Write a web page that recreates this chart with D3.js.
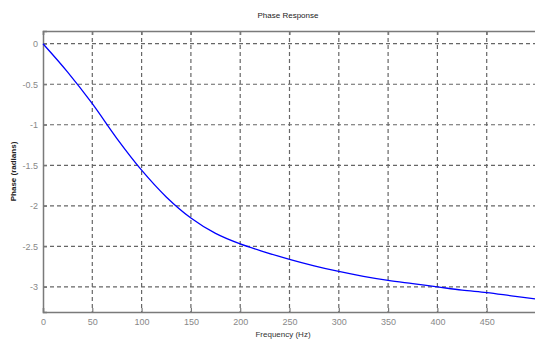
<!DOCTYPE html>
<html>
<head>
<meta charset="utf-8">
<script src="https://cdn.jsdelivr.net/npm/d3@7"></script>
<style>
body { margin: 0; background: #fff; }
svg { display: block; font-family: Arial, 'Liberation Sans', sans-serif; }
</style>
</head>
<body>
<div id="chart"></div>
<script>
// Phase response samples
const freqs = [0, 25, 50, 75, 100, 125, 150, 175, 200, 225, 250, 275, 300, 325, 350, 375, 400, 425, 450, 475, 500];
const phase = [0, -0.35, -0.74, -1.17, -1.56, -1.89, -2.15, -2.34, -2.47, -2.57, -2.66, -2.74, -2.81, -2.87, -2.92, -2.96, -3.0, -3.04, -3.07, -3.11, -3.15];
const xTicks = [0, 50, 100, 150, 200, 250, 300, 350, 400, 450];
const yTicks = [0, -0.5, -1, -1.5, -2, -2.5, -3];
const data = freqs.map((f, i) => ({ f: f, p: phase[i] }));

const W = 535, H = 339;
const margin = { top: 31, right: -1, bottom: 27, left: 43 };
const width = W - margin.left - margin.right;
const height = H - margin.top - margin.bottom;

const svg = d3.select('#chart').append('svg')
	.attr('width', W)
	.attr('height', H);

const x = d3.scaleLinear().domain([0, 500]).range([0, width]);
const y = d3.scaleLinear().domain([-3.31, 0.157]).range([height, 0]);

const g = svg.append('g')
	.attr('transform', 'translate(' + margin.left + ',' + margin.top + ')');

// grid
g.append('g').selectAll('line').data(xTicks.filter(d => d > 0)).enter().append('line')
	.attr('x1', d => x(d)).attr('x2', d => x(d))
	.attr('y1', 0).attr('y2', height)
	.attr('stroke', '#666').attr('stroke-width', 1.2)
	.attr('stroke-dasharray', '4,3');
g.append('g').selectAll('line').data(yTicks).enter().append('line')
	.attr('x1', 0).attr('x2', width)
	.attr('y1', d => y(d)).attr('y2', d => y(d))
	.attr('stroke', '#666').attr('stroke-width', 1.2)
	.attr('stroke-dasharray', '4,3');

// axes
const xAxis = d3.axisBottom(x).tickValues(xTicks).tickSize(-4).tickPadding(7);
const yAxis = d3.axisLeft(y).tickValues(yTicks).tickSize(-4).tickPadding(5)
	.tickFormat(d => d === 0 ? '0' : String(d));
const xTop = d3.axisTop(x).tickValues(xTicks).tickSize(-4).tickFormat('');

const ax = g.append('g').attr('transform', 'translate(0,' + height + ')').call(xAxis);
const ay = g.append('g').call(yAxis);
const at = g.append('g').call(xTop);
[ax, ay, at].forEach(a => {
	a.select('.domain').attr('stroke', '#7a7a7a').attr('stroke-width', 1.5);
	a.selectAll('.tick line').attr('stroke', '#7a7a7a').attr('stroke-width', 1.2);
	a.selectAll('text').attr('fill', '#888').style('font-size', '9px').style('font-family', 'Arial, Liberation Sans, sans-serif');
});

// curve
const line = d3.line()
	.x(d => x(d.f))
	.y(d => y(d.p))
	.curve(d3.curveCatmullRom);
g.append('path')
	.datum(data)
	.attr('d', line)
	.attr('fill', 'none')
	.attr('stroke', '#0000ff')
	.attr('stroke-width', 1.3);

// labels
svg.append('text')
	.attr('x', 288).attr('y', 18)
	.attr('text-anchor', 'middle')
	.style('font-size', '8px')
	.attr('fill', '#222')
	.text('Phase Response');
svg.append('text')
	.attr('x', 283).attr('y', 337)
	.attr('text-anchor', 'middle')
	.style('font-size', '8px')
	.attr('fill', '#333')
	.text('Frequency (Hz)');
svg.append('text')
	.attr('transform', 'translate(16,' + (margin.top + height / 2) + ') rotate(-90)')
	.attr('text-anchor', 'middle')
	.style('font-size', '8px')
	.style('font-weight', 'bold')
	.attr('fill', '#222')
	.text('Phase (radians)');
</script>
</body>
</html>
